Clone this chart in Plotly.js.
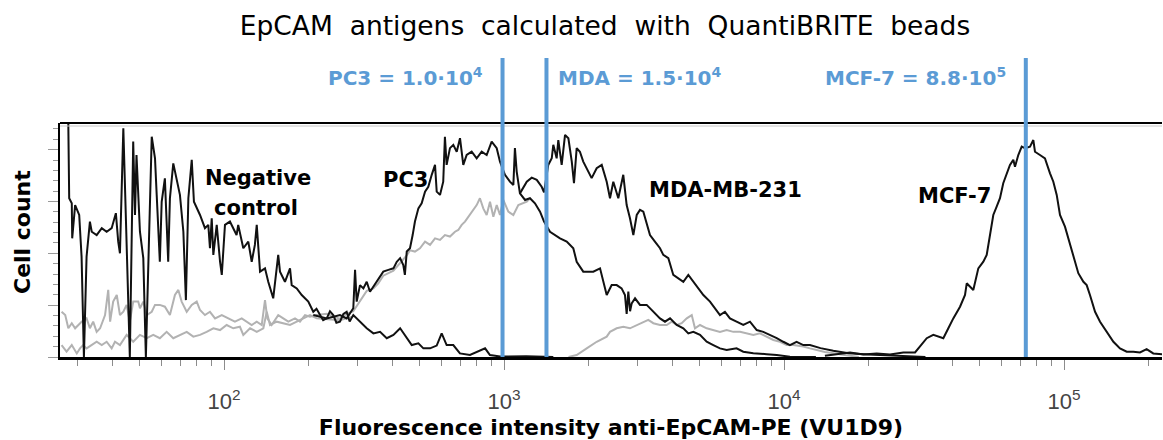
<!DOCTYPE html>
<html><head><meta charset="utf-8">
<script src="https://cdn.plot.ly/plotly-3.0.1.min.js"></script>
<style>html,body{margin:0;padding:0;background:#fff}#chart{width:1163px;height:440px}</style>
</head><body><div id="chart"></div>
<script>
// Histogram points: [fluorescence intensity, cell count (arbitrary units)]
const negativeControl = [[27.6,120],[28.0,62.5],[28.6,60.5],[28.7,46.7],[29.4,59.8],[30.4,55.9],[31.0,39.5],[31.6,0],[32.3,39.5],[33.2,53.3],[33.7,49.3],[35.1,48],[36.6,50.7],[38.1,49.3],[39.7,50.7],[41.1,56.6],[41.9,45.4],[42.5,40.8],[43.7,90],[45.5,21.8],[46.1,0],[47.4,84.8],[48.1,55.9],[48.7,79.5],[50.1,49.3],[51.5,38.9],[52.6,0],[55.2,86.7],[56.7,78.2],[57.5,63.8],[59.0,37.5],[59.9,61.1],[61.5,70.3],[63.2,37.5],[64.1,62.5],[65.9,76.2],[67.8,69],[69.6,63.8],[71.6,49.3],[73.1,22.4],[74.6,62.5],[76.7,77.6],[78.1,61.1],[82.1,55.9],[85.5,50.7],[87.9,52],[89.1,42.8],[90.4,54.6],[91.6,40.2],[94.2,52],[96.8,37.5],[98.2,32.3],[100.8,52],[105,53.3],[110.9,48],[112.4,52],[117.2,42.8],[122.1,45.4],[125.6,37.5],[128.9,44.1],[130.9,52],[134.5,33.6],[140.1,34.9],[143.9,29.6],[149.9,23.1],[156.2,40.2],[158.5,33.6],[165.1,29.6],[172.1,34.9],[174.5,28.3],[181.9,27],[189.5,24.4],[200,21.8],[208.4,17.8],[214,19],[220.3,16.5],[226,14.5],[232.8,15.2],[239,18],[245.6,16.5],[252,13.5],[259.5,13.9],[267,17],[274.2,17.8],[281,14],[289.6,16.5],[306,13.9],[323.4,11.3],[341.6,9.3],[360.9,9.9],[381.3,7.4],[402.8,8.7],[425.6,11.3],[449.5,7.4],[468.3,4.7],[494.6,5.4],[515.3,3.4],[544.4,3.4],[575,4.5],[599,9.3],[624,4.7],[659,4.7],[696,1.4],[756,0.8],[856,3.4],[891,0.8],[968,0.2],[1200,0.3],[1500,0]];

const pc3 = [[208.4,16.5],[232.8,15.2],[259.5,16.5],[274.2,15.2],[289.6,19.2],[293.8,34.3],[297.8,21.8],[306,28.3],[314.6,27],[323.4,29.6],[332.2,25.7],[341.6,27.7],[355.6,30.3],[370.6,33.6],[386.3,34.3],[402.8,34.9],[414,37.5],[425.6,38.9],[436.9,36.2],[442.6,32.3],[449.5,41.5],[461.6,42.8],[471.8,48],[480.8,53.3],[494.6,58.5],[508.1,60.5],[522.4,65.1],[536.6,67],[551.9,71.7],[567.1,75.6],[575,65.1],[590.8,63.8],[606.7,69],[615.2,86.7],[623.9,75.6],[641.2,82.2],[659.1,83.5],[677.9,80.8],[696.4,86.1],[715.5,75.6],[735.7,79.5],[766.6,80.8],[798.8,78.2],[832.4,80.8],[867.3,79.5],[903.6,84.8],[941.9,82.2],[967.6,76.9],[1008,71.7],[1050,69],[1080,67.7],[1094,82.2],[1110,73],[1140,64.4],[1189,61.8],[1238,62.5],[1290,60.5],[1345,57.2],[1390,53.3],[1460,49.3],[1585,46.7],[1675,45.4],[1768,42.8],[1818,37.5],[1919,33.6],[2084,33.6],[2203,34.9],[2263,29.6],[2327,24.4],[2424,28.3],[2526,28.3],[2630,27],[2704,24.4],[2742,17],[2780,25.7],[2820,18],[2858,21.1],[2938,23.1],[3060,20.5],[3233,20.5],[3415,17.8],[3607,15.2],[3758,13.9],[3917,15.2],[4139,12.6],[4370,11.3],[4553,9.3],[4745,9.9],[5012,8.7],[5295,6],[5591,4.7],[5907,3.4],[6240,2.8],[6770,3.4],[7154,2.1],[7770,1.5],[8669,1.1],[9419,0.8],[10500,0.1],[13000,0]];

const mdaMb231 = [[1140,64.4],[1206,69],[1256,70.6],[1309,69.7],[1363,67],[1390,64.8],[1439,75.6],[1481,78.2],[1500,83.5],[1542,78.2],[1563,85.4],[1607,75.6],[1652,87.4],[1698,86.1],[1746,76.9],[1778,68.4],[1818,82.2],[1867,80.8],[1919,76.9],[1974,74.3],[2056,70.4],[2143,74.3],[2234,75.6],[2327,69],[2391,62.5],[2457,69],[2560,62.5],[2667,71.7],[2742,59.8],[2818,54.6],[2897,48],[2979,55.9],[3060,57.9],[3145,57.2],[3233,52],[3322,48],[3460,45.4],[3607,42.8],[3706,40.2],[3863,38.9],[4024,32.3],[4194,31],[4370,29.6],[4553,32.3],[4745,29.6],[4943,27],[5152,24.4],[5442,21.8],[5670,19.2],[5907,16.5],[6152,17.8],[6412,15.2],[6770,13.9],[7154,12.6],[7560,13.9],[7990,10.6],[8433,9.9],[8913,8.7],[9419,7.4],[9943,6],[10500,4.7],[11090,6],[11720,4.7],[12380,4.7],[13500,3.5],[15000,2.5],[17000,1.5],[20000,1],[24000,0.5],[28000,0.3],[32000,0]];

const mcf7 = [[14000,0.5],[15500,1.2],[17210,1.8],[19200,1.0],[21430,1.4],[23910,1.0],[26680,1.8],[29380,1.8],[30600,4.1],[32340,7.4],[34140,8.7],[35560,8],[37070,7.4],[38630,11.3],[40240,15.2],[42530,19.8],[44310,24.4],[44940,29],[46170,27.7],[47430,26.4],[49430,34.9],[51510,37.5],[52960,40.2],[53650,44.1],[55180,52],[55910,55.9],[57480,59.2],[59070,62.5],[60680,68.4],[62370,72.3],[64120,75.6],[65910,77.6],[66830,74.9],[68670,79.5],[70620,82.8],[72560,82.2],[75610,82.8],[77700,85.4],[78770,80.8],[82060,79.5],[85510,78.2],[89130,72.3],[91600,69],[94180,63.8],[96760,55.9],[100800,51.3],[105000,44.1],[108000,40.2],[112500,33],[117300,29.6],[120500,28.3],[123800,24.4],[129100,17.8],[134500,13.9],[142100,9.9],[150100,6],[158500,3.4],[167500,2.1],[176800,2.1],[186800,1.8],[197300,3.1],[208400,1.4],[225800,1.0]];

const grayUpper = [[26.3,17.8],[27.1,16.5],[27.8,11.3],[28.6,13.3],[29.4,11.3],[30.2,12.6],[31.0,13.9],[32.3,15.2],[33.2,11.3],[34.1,13.9],[35.1,9.9],[36.1,11.3],[37.6,16.5],[38.6,26.4],[39.2,13.9],[40.2,21.8],[41.4,24.4],[42.5,16.5],[43.7,17.8],[44.9,20.5],[46.1,13.9],[47.4,21.8],[49.4,21.8],[50.1,19.2],[51.5,21.8],[53,16.5],[55.2,17.8],[56.7,20.5],[59,20.5],[61.5,19.8],[64.1,16.5],[66.8,24.4],[68.7,26.4],[70.6,21.8],[73.6,17.8],[76.7,20.5],[79.9,21.8],[82.1,18.5],[85.5,16.5],[89.1,17.8],[92.9,15.2],[98.2,16.5],[103.6,15.2],[109.4,13.9],[115.7,15.2],[120.5,13.9],[125.6,12.6],[130.9,13.9],[136.4,12.6],[140.1,22.4],[142.8,15.2],[148,12.6],[156.2,16.5],[162.8,15.2],[169.7,13.9],[179.3,15.2],[186.8,13.9],[194.7,16.5],[202.8,15.9],[214.3,16.5],[232.8,17],[259.5,15],[274.2,17],[289.6,18],[306,22],[323.4,26],[341.6,27],[355.6,29],[370.6,32],[386.3,33],[402.8,34],[425.6,37],[449.5,40],[462,42],[480.8,41.5],[501,42.8],[522.4,45.4],[544.4,44.1],[567.1,46.7],[590.8,46.1],[615.2,48],[641.2,47.4],[668.3,49.3],[686.7,50],[706.2,52],[725.5,53.3],[756,55.9],[777,57.9],[798.8,59.8],[820.4,62.5],[843.3,58.5],[867.3,55.9],[891.3,61.1],[916.2,55.2],[941.9,59.8],[967.6,55.9],[994.3,61.8],[1036,57.2],[1080,55.9],[1125,59.8],[1172,60.5],[1206,61.1],[1238,62.5]];

const grayLower = [[26.3,4.7],[27.4,2.1],[28.6,4.7],[29.8,1.4],[30.6,3.4],[31.4,4.7],[32.3,3.4],[33.7,4.7],[35.1,6],[36.6,4.7],[38.1,6],[39.7,3.4],[40.8,6],[42.5,4.7],[44.9,8.7],[47.4,6],[50.1,8.7],[53,7.4],[55.9,8.7],[59,7.4],[62.4,9.9],[65.9,7.4],[69.6,8.7],[73.6,9.9],[77.7,8],[82.1,8.7],[86.7,9.9],[91.6,11.3],[96.8,10.6],[102.2,12.6],[107.9,11.3],[114,11.9],[117.2,8.7],[123.9,11.3],[130.9,9.9],[138.2,11.3],[142.1,17.8],[146,12.6],[154.2,13.9],[162.8,13.3],[172.1,12.6],[181.9,13.9],[191.9,15.2],[202.8,16.5],[214.3,15.2],[232.8,15],[259.5,14.5],[289.6,16]];

const grayMda = [[1700,0],[1818,0.8],[1974,3.4],[2143,6],[2327,8],[2391,9.9],[2526,11.3],[2667,11.9],[2818,11.3],[2979,12.6],[3145,13.9],[3276,14.6],[3415,13.3],[3607,12.6],[3811,12.6],[3972,13.9],[4139,12.6],[4312,13.3],[4494,15.2],[4683,16.5],[4809,11.3],[5012,12.6],[5295,11.3],[5591,10.6],[5907,9.9],[6240,10.6],[6592,9.9],[6966,9.9],[7358,9.3],[7770,8.7],[8204,9.3],[8669,8],[9162,6.7],[9676,6],[10220,4.7],[10790,4.7],[11720,4.1],[12380,3.4],[14000,2],[16000,1],[18500,0]];

// Quantification markers (fluorescence positions) and their labels
const markerValues = [988, 1418, 73050];
const markerLabels = ['PC3 = 1.0\u00b710<sup>4</sup>', 'MDA = 1.5\u00b710<sup>4</sup>', 'MCF-7 = 8.8\u00b710<sup>5</sup>'];

// Axis ticks
const majorTickVals = [100, 1000, 10000, 100000];
const majorTickText = ['10<sup>2</sup>', '10<sup>3</sup>', '10<sup>4</sup>', '10<sup>5</sup>'];
const minorTickVals = [30,40,50,60,70,80,90,200,300,400,500,600,700,800,900,2000,3000,4000,5000,6000,7000,8000,9000,20000,30000,40000,50000,60000,70000,80000,90000,200000];

const BLACK = '#111111', GRAY = '#b2b2b2', BLUE = '#5b9bd5';

function trace(pts, name, color) {
  return {x: pts.map(p => p[0]), y: pts.map(p => p[1]), name: name, type: 'scatter', mode: 'lines',
          line: {color: color, width: 2}, hoverinfo: 'x+y+name'};
}

const data = [
  trace(grayLower, 'Gray histogram (low)', GRAY),
  trace(grayUpper, 'Gray histogram (PC3 range)', GRAY),
  trace(grayMda, 'Gray histogram (MDA range)', GRAY),
  trace(negativeControl, 'Negative control', BLACK),
  trace(pc3, 'PC3', BLACK),
  trace(mdaMb231, 'MDA-MB-231', BLACK),
  trace(mcf7, 'MCF-7', BLACK)
];

// plot area geometry helpers (paper coordinates)
const L = 60, T = 123, W = 1102, H = 234;
const px = x => (x - L) / W;
const py = y => (T + H - y) / H;

const shapes = [
  {type: 'line', xref: 'paper', yref: 'paper', x0: 0, x1: 1, y0: 1, y1: 1, line: {color: '#000', width: 2}},
  {type: 'line', xref: 'paper', yref: 'paper', x0: 0, x1: 1, y0: py(126), y1: py(126), line: {color: '#c8c8c8', width: 1}}
];
markerValues.forEach(v => shapes.push({type: 'line', xref: 'x', yref: 'paper', x0: v, x1: v, y0: 0, y1: py(58),
  line: {color: BLUE, width: 4}, layer: 'above'}));

const labelFont = {family: 'DejaVu Sans', size: 21, color: '#000'};
const blueFont = {family: 'DejaVu Sans', size: 20, color: BLUE};
const annotations = [
  {text: '<b>Negative</b>', x: px(257.5), y: py(178), font: labelFont},
  {text: '<b>control</b>', x: px(256), y: py(208), font: labelFont},
  {text: '<b>PC3</b>', x: px(405), y: py(180), font: labelFont},
  {text: '<b>MDA-MB-231</b>', x: px(725), y: py(190), font: labelFont},
  {text: '<b>MCF-7</b>', x: px(954.5), y: py(196), font: labelFont},
  {text: '<b>' + markerLabels[0] + '</b>', x: px(485), y: py(77), xanchor: 'right', font: blueFont},
  {text: '<b>' + markerLabels[1] + '</b>', x: px(556), y: py(77), xanchor: 'left', font: blueFont},
  {text: '<b>' + markerLabels[2] + '</b>', x: px(1008), y: py(77), xanchor: 'right', font: blueFont},
  {text: '<b>Cell count</b>', x: -38 / W, y: py(232), textangle: -90, font: {family: 'DejaVu Sans', size: 22, color: '#000'}}
].map(a => Object.assign({xref: 'paper', yref: 'paper', showarrow: false, xanchor: 'center', yanchor: 'middle'}, a));

const layout = {
  width: 1163, height: 440,
  margin: {l: L, r: 1, t: T, b: 440 - T - H, pad: 0},
  paper_bgcolor: '#fff', plot_bgcolor: '#fff',
  showlegend: false,
  font: {family: 'DejaVu Sans', color: '#000'},
  title: {text: 'EpCAM\u00a0 antigens\u00a0 calculated\u00a0 with\u00a0 QuantiBRITE\u00a0 beads', font: {family: 'DejaVu Sans', size: 26.5, color: '#000'},
          x: 605 / 1163, xanchor: 'center', y: 1 - 26 / 440, yanchor: 'middle'},
  xaxis: {
    type: 'log', range: [1.4143, 5.35], fixedrange: true,
    tickmode: 'array', tickvals: majorTickVals, ticktext: majorTickText,
    ticks: 'outside', ticklen: 10, tickwidth: 1, tickcolor: '#8c8c8c',
    tickfont: {family: 'Liberation Sans Narrow, Liberation Sans', size: 22, color: '#444'},
    ticklabelstandoff: 13,
    minor: {tickvals: minorTickVals, ticks: 'outside', ticklen: 6, tickwidth: 1, tickcolor: '#8c8c8c', showgrid: false},
    showline: true, linecolor: '#000', linewidth: 3, showgrid: false, zeroline: false,
    title: {text: '<b>Fluorescence intensity anti-EpCAM-PE (VU1D9)</b>', font: {family: 'DejaVu Sans', size: 22, color: '#000'}, standoff: 7}
  },
  yaxis: {
    range: [0, 92.1], fixedrange: true, showticklabels: false,
    tick0: 0, dtick: 20.4, ticks: 'outside', ticklen: 10, tickwidth: 1, tickcolor: '#9a9a9a',
    minor: {tick0: 0, dtick: 4.08, ticks: 'outside', ticklen: 5, tickwidth: 1, tickcolor: '#9a9a9a', showgrid: false},
    showline: true, linecolor: '#000', linewidth: 2, showgrid: false, zeroline: false
  },
  shapes: shapes,
  annotations: annotations
};

Plotly.newPlot('chart', data, layout, {displayModeBar: false, staticPlot: true});
</script></body></html>
